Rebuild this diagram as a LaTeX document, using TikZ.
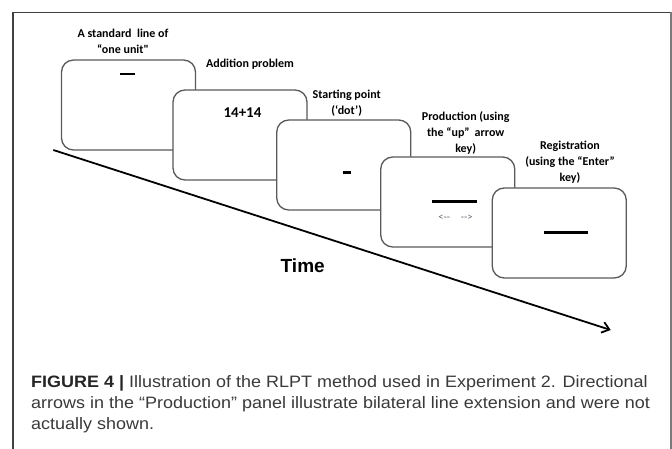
\documentclass[tikz,border=0pt]{standalone}
\usepackage{fontspec}
\setmainfont{Liberation Sans}
\newfontfamily\labelfont{Carlito}
\usetikzlibrary{arrows.meta}
\definecolor{panelgray}{HTML}{5A5A5A}
\definecolor{framedark}{HTML}{404040}
\definecolor{framelight}{HTML}{7A7A7A}
\definecolor{captiongray}{HTML}{3A3A3A}
\definecolor{hintgray}{HTML}{656570}

\begin{document}
\begin{tikzpicture}[x=1pt,y=-1pt,
  panel/.style={draw=panelgray, line width=1.3pt, fill=white,
    rounded corners=12pt, minimum width=134pt, minimum height=90pt,
    inner sep=0pt},
  tag/.style={font=\labelfont\bfseries\fontsize{12}{16}\selectfont,
    align=center, inner sep=0pt},
  barline/.style={line width=2.6pt},
  timeline/.style={line width=1.8pt, -{Straight Barb[length=7pt,width=11pt,line width=1.8pt]}},
  captext/.style={anchor=base west, inner sep=0pt, text=captiongray,
    font=\fontsize{16.5}{21}\selectfont}
]
\useasboundingbox (0,0) rectangle (672,449);
\fill[white] (0,0) rectangle (672,449);

% outer frame, open at the bottom
\draw[framedark, line width=1.5pt] (13,449) -- (13,12.5) -- (670.5,12.5);
\draw[framelight, line width=2pt] (670.5,12.5) -- (670.5,449);

% time axis
\coordinate (tstart) at (53.3,150);
\coordinate (tend) at (610.7,330);
\draw[timeline] (tstart) -- (tend);
\node[font=\bfseries\fontsize{19}{22}\selectfont, inner sep=0pt] (time) at (302.7,266) {Time};

% the five screens
\node[panel] (p1) at (128.5,105) {};
\node[panel] (p2) at (240,135) {};
\node[panel] (p3) at (343.75,165) {};
\node[panel] (p4) at (447.75,202) {};
\node[panel] (p5) at (559.25,233) {};

% screen contents
\draw[barline] (120,74) -- (135,74);
\node[font=\labelfont\bfseries\fontsize{15}{18}\selectfont, inner sep=0pt] (sum) at (242.5,112.3) {14+14};
\draw[line width=3pt] (342.7,173) -- (350.7,173);
\draw[line width=3pt] (432.3,201.7) -- (477.3,201.7);
\node[font=\labelfont\fontsize{10.5}{12}\selectfont, text=hintgray, inner sep=0pt] (dirs) at (455.5,217.3) {<-{}-\hspace{11pt}-{}->};
\draw[barline] (544,232.3) -- (588.3,232.3);

% screen labels
\node[tag] (l1) at (123,41.5) {A standard\hspace{5.5pt}line of\\“one unit"};
\node[tag] (l2) at (250,64) {Addition problem};
\node[tag] (l3) at (346.7,103.5) {Starting point\\(‘dot’)};
\node[tag] (l4) at (465.7,132.5) {Production (using\\the “up”\hspace{5pt}arrow\\key)};
\node[tag] (l5) at (570,162) {Registration\\(using the “Enter”\\key)};

% caption, widened to the column measure
\node[captext] (cap1) at (31,387.3) {\scalebox{1.09}[1]{{\bfseries\color{black!85}FIGURE 4 |} Illustration of the RLPT method used in Experiment 2. Directional}};
\node[captext] (cap2) at (31,408.3) {\scalebox{1.09}[1]{arrows in the “Production” panel illustrate bilateral line extension and were not}};
\node[captext] (cap3) at (31,429) {\scalebox{1.09}[1]{actually shown.}};
\end{tikzpicture}
\end{document}
